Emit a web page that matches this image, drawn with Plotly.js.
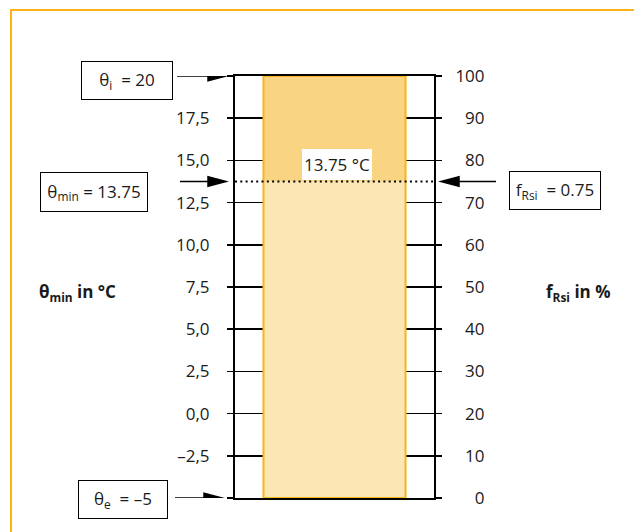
<!DOCTYPE html>
<html>
<head>
<meta charset="utf-8">
<script src="https://cdn.plot.ly/plotly-3.0.1.min.js"></script>
<style>
  html, body { margin: 0; padding: 0; background: #fff; }
  #wrap { position: relative; width: 634px; height: 532px; overflow: hidden; }
  #chart { position: absolute; left: 0; top: 0; width: 634px; height: 532px; }
  #frame { position: absolute; left: 10px; top: 9px; width: 700px; height: 600px;
           border-left: 2px solid #FBB316; border-top: 2px solid #FBB316; pointer-events: none; }
</style>
</head>
<body>
<div id="wrap"><div id="chart"></div><div id="frame"></div></div>
<script>
// ---- data ----
const thetaInside = 20;      // θi
const thetaOutside = -5;     // θe
const thetaMin = 13.75;      // θmin
const fRsi = 0.75;           // fRsi
const tempTickVals = [-5, -2.5, 0, 2.5, 5, 7.5, 10, 12.5, 15, 17.5, 20];
const tempTickText = ['', '\u20132,5', '0,0', '2,5', '5,0', '7,5', '10,0', '12,5', '15,0', '17,5', ''];
const fTickVals = [0, 10, 20, 30, 40, 50, 60, 70, 80, 90, 100];
const fTickText = ['0', '10', '20', '30', '40', '50', '60', '70', '80', '90', '100'];

// ---- styles ----
const FONT = 'Open Sans, DejaVu Sans Condensed, sans-serif';
const TXT = '#1a1a1a';
const barX = 0.5, barW = 0.714;
const pad = s => '\u2007'.repeat(3 - s.length) + s;

const traces = [
  { type: 'bar', x: [barX], y: [thetaMin - thetaOutside], base: [thetaOutside], width: [barW],
    marker: { color: '#FCE6B4', line: { width: 0 } }, hoverinfo: 'skip', showlegend: false },
  { type: 'bar', x: [barX], y: [thetaInside - thetaMin], base: [thetaMin], width: [barW],
    marker: { color: '#F9D583', line: { width: 0 } }, hoverinfo: 'skip', showlegend: false },
  { type: 'bar', x: [barX], y: [thetaInside - thetaOutside], base: [thetaOutside], width: [barW],
    marker: { color: 'rgba(0,0,0,0)', line: { width: 2, color: '#F7B41E' } }, hoverinfo: 'skip', showlegend: false },
  { type: 'scatter', x: [0, 1], y: [fRsi * 100, fRsi * 100], yaxis: 'y2', mode: 'lines',
    line: { color: '#000', width: 2, dash: '2px,3.3px' }, hoverinfo: 'skip', showlegend: false, cliponaxis: false }
];

function arrowPath(tail, tip) {
  const dir = tip > tail ? 1 : -1;
  const hb = tip - dir * 18;
  return `M${tail},0L${hb},0M${hb},-4.7L${tip},0L${hb},4.7Z`;
}
function arrowShape(xPaper, yVal, yref, tail, tip) {
  return { type: 'path', xref: 'paper', yref: yref, xsizemode: 'pixel', ysizemode: 'pixel',
    xanchor: xPaper, yanchor: yVal, path: arrowPath(tail, tip),
    fillcolor: '#000', line: { color: '#000', width: 1.5 }, layer: 'above' };
}

const boxFont = { family: FONT, size: 17, color: TXT };
function box(text, xPaper, yVal, xshift, yshift, w, h) {
  return { xref: 'paper', yref: 'y', x: xPaper, y: yVal, xanchor: 'center', yanchor: 'middle',
    text: text, showarrow: false,
    xshift: xshift, yshift: yshift, width: w, height: h, bgcolor: '#fff',
    bordercolor: '#000', borderwidth: 1, borderpad: 0, font: boxFont, align: 'center', valign: 'middle' };
}

const layout = {
  width: 634, height: 532,
  margin: { l: 235, r: 200, t: 76, b: 34, pad: 0 },
  paper_bgcolor: '#fff', plot_bgcolor: 'rgba(0,0,0,0)',
  barmode: 'overlay', showlegend: false,
  xaxis: { range: [0, 1], showgrid: false, zeroline: false, showticklabels: false, ticks: '',
    showline: true, mirror: true, linecolor: '#000', linewidth: 2, fixedrange: true },
  yaxis: { range: [thetaOutside, thetaInside], tickmode: 'array', tickvals: tempTickVals, ticktext: tempTickText,
    ticks: 'outside', ticklen: 6, tickwidth: 1.5, tickcolor: '#000',
    showline: true, linecolor: '#000', linewidth: 2,
    showgrid: true, gridcolor: '#000', gridwidth: 1.5, zeroline: false,
    tickfont: { family: FONT, size: 17, color: TXT }, ticklabelstandoff: 14 },
  yaxis2: { overlaying: 'y', side: 'right', anchor: 'x', range: [0, 100], tickmode: 'array',
    tickvals: fTickVals, ticktext: fTickText.map(pad),
    ticks: 'outside', ticklen: 6, tickwidth: 1.5, tickcolor: '#000',
    showline: true, linecolor: '#000', linewidth: 2, showgrid: false, zeroline: false,
    tickfont: { family: FONT, size: 17, color: TXT }, ticklabelstandoff: 10 },
  shapes: [
    arrowShape(0, thetaInside, 'y', -58, -9),
    arrowShape(0, thetaMin, 'y', -55, -9),
    arrowShape(0, thetaOutside, 'y', -60, -13),
    arrowShape(1, thetaMin, 'y', 62, 7)
  ],
  annotations: [
    box('\u03B8<sub>i</sub>  = ' + thetaInside, 0, thetaInside, -108, -4.5, 90, 37),
    box('\u03B8<sub>min</sub> = ' + thetaMin, 0, thetaMin, -141, -10, 106, 38),
    box('\u03B8<sub>e</sub>  = ' + String(thetaOutside).replace('-', '\u2013'), 0, thetaOutside, -112, -1.5, 88, 37),
    box('f<sub>Rsi</sub>  = ' + fRsi, 1, thetaMin, 121, -9, 90, 37),
    { xref: 'x', yref: 'y', x: barX, y: thetaMin, xanchor: 'center', yanchor: 'bottom', text: thetaMin + ' \u00B0C',
      showarrow: false, bgcolor: '#fff', borderpad: 0, borderwidth: 0, width: 70, height: 31,
      xshift: 2, yshift: 1.5, font: { family: FONT, size: 17, color: TXT } },
    { xref: 'paper', yref: 'paper', x: 0, y: 0.5, xanchor: 'center', yanchor: 'middle', xshift: -158, yshift: -5,
      showarrow: false, text: '<b>\u03B8<sub>min</sub> in \u00B0C</b>', font: { family: FONT, size: 17, color: TXT } },
    { xref: 'paper', yref: 'paper', x: 1, y: 0.5, xanchor: 'center', yanchor: 'middle', xshift: 144, yshift: -5,
      showarrow: false, text: '<b>f<sub>Rsi</sub> in %</b>', font: { family: FONT, size: 17, color: TXT } }
  ]
};

Plotly.newPlot('chart', traces, layout, { staticPlot: true, displayModeBar: false });
</script>
</body>
</html>
